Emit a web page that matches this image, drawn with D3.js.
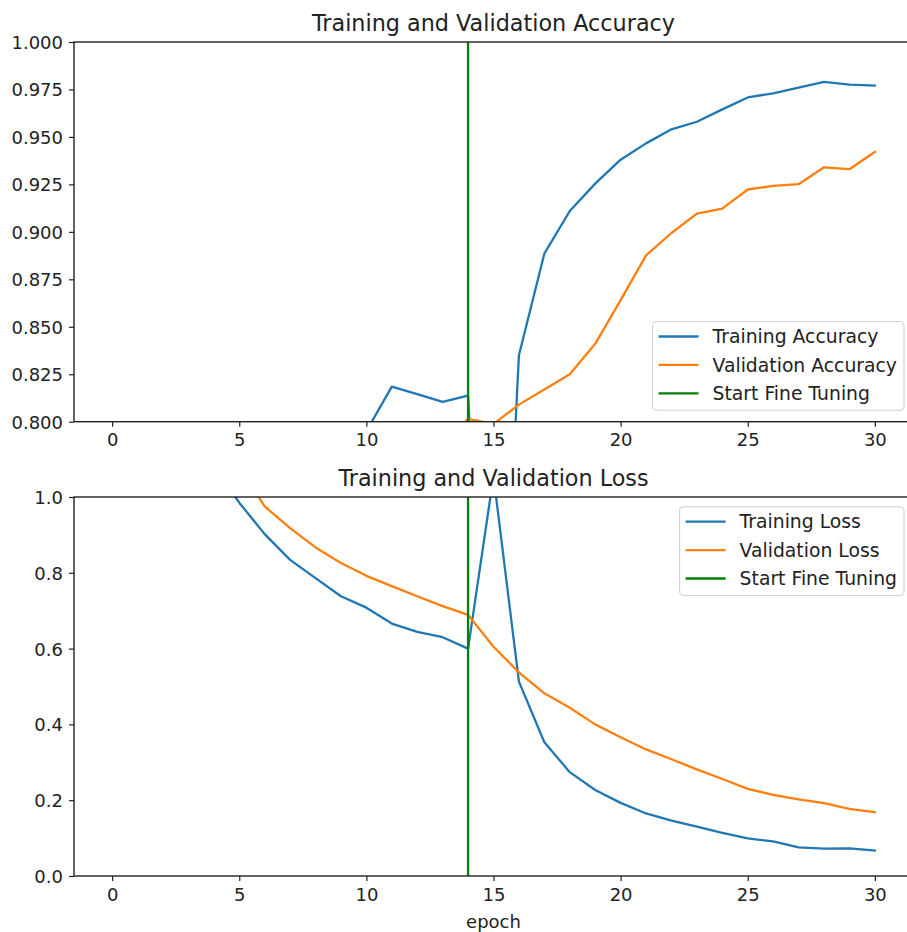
<!DOCTYPE html>
<html>
<head>
<meta charset="utf-8">
<script src="https://cdn.jsdelivr.net/npm/d3@7"></script>
<style>
  html, body { margin: 0; padding: 0; background: #fff; }
  svg { display: block; font-family: "DejaVu Sans", sans-serif; }
</style>
</head>
<body>
<svg id="chart" width="907" height="932"></svg>
<script>
// ---- data ----
const epochs = [0,1,2,3,4,5,6,7,8,9,10,11,12,13,14,15,16,17,18,19,20,21,22,23,24,25,26,27,28,29,30];
const trainAcc = [0.42,0.55,0.62,0.66,0.69,0.71,0.73,0.75,0.765,0.78,0.795,0.8185,0.8145,0.8104,0.8137,0.566,0.835,0.8885,0.911,0.9254,0.938,0.9466,0.954,0.958,0.9645,0.9708,0.973,0.976,0.979,0.9775,0.977];
const valAcc = [0.55,0.62,0.66,0.69,0.71,0.725,0.74,0.75,0.76,0.765,0.77,0.775,0.78,0.787,0.8015,0.7988,0.809,0.817,0.825,0.841,0.864,0.8876,0.8994,0.9096,0.9122,0.9223,0.9242,0.9251,0.934,0.933,0.9421];
const trainLoss = [2.1,1.6,1.35,1.2,1.08,0.985,0.902,0.834,0.786,0.738,0.708,0.666,0.644,0.630,0.600,1.055,0.513,0.353,0.274,0.227,0.193,0.165,0.146,0.130,0.114,0.099,0.0915,0.0757,0.072,0.073,0.067];
const valLoss = [1.65,1.48,1.35,1.25,1.16,1.079,0.975,0.918,0.867,0.826,0.792,0.765,0.738,0.712,0.689,0.605,0.537,0.482,0.444,0.400,0.366,0.334,0.308,0.2815,0.256,0.230,0.214,0.202,0.192,0.177,0.168];
const fineTuneEpoch = 14;
const xTicks = [0,5,10,15,20,25,30];
const accTicks = [0.800,0.825,0.850,0.875,0.900,0.925,0.950,0.975,1.000];
const lossTicks = [0.0,0.2,0.4,0.6,0.8,1.0];
const accLegend = ["Training Accuracy","Validation Accuracy","Start Fine Tuning"];
const lossLegend = ["Training Loss","Validation Loss","Start Fine Tuning"];
const titles = ["Training and Validation Accuracy","Training and Validation Loss"];
const xLabel = "epoch";

// ---- styles ----
const C_BLUE = "#1f77b4", C_ORANGE = "#ff7f0e", C_GREEN = "#008000";
const LW = 2.3;
const svg = d3.select("#chart");
const LEFT = 74, RIGHT = 913;
const x = d3.scaleLinear().domain([-1.5, 31.5]).range([LEFT, RIGHT]);

function panel(id, top, bottom, yDomain, yTicks, fmt, s1, s2, title, legendLabels, legendPos) {
  const y = d3.scaleLinear().domain(yDomain).range([bottom, top]);
  const g = svg.append("g");
  const clipId = "clip" + id;
  svg.append("clipPath").attr("id", clipId).append("rect")
    .attr("x", LEFT).attr("y", top).attr("width", RIGHT - LEFT).attr("height", bottom - top);

  const line = d3.line().x((d, i) => x(epochs[i])).y(d => y(d));
  const lg = g.append("g").attr("clip-path", `url(#${clipId})`);
  lg.append("path").datum(s1).attr("d", line).attr("fill", "none")
    .attr("stroke", C_BLUE).attr("stroke-width", LW).attr("stroke-linejoin", "round").attr("stroke-linecap", "square");
  lg.append("path").datum(s2).attr("d", line).attr("fill", "none")
    .attr("stroke", C_ORANGE).attr("stroke-width", LW).attr("stroke-linejoin", "round").attr("stroke-linecap", "square");
  lg.append("line").attr("x1", x(fineTuneEpoch)).attr("x2", x(fineTuneEpoch))
    .attr("y1", y(yDomain[0])).attr("y2", y(yDomain[1]))
    .attr("stroke", C_GREEN).attr("stroke-width", LW);

  // axes
  const xAxis = d3.axisBottom(x).tickValues(xTicks).tickSize(5).tickPadding(6).tickFormat(d3.format("d"));
  const yAxis = d3.axisLeft(y).tickValues(yTicks).tickSize(5).tickPadding(6).tickFormat(d3.format(fmt));
  const xa = g.append("g").attr("transform", `translate(0,${bottom})`).call(xAxis);
  const ya = g.append("g").attr("transform", `translate(${LEFT},0)`).call(yAxis);
  [xa, ya].forEach(a => {
    a.select(".domain").remove();
    a.selectAll(".tick line").attr("stroke", "#222").attr("stroke-width", 1.2);
    a.selectAll(".tick text").attr("fill", "#222").attr("font-size", 18)
      .attr("font-family", "DejaVu Sans, sans-serif");
  });
  ya.selectAll(".tick text").attr("dy", "0.36em");
  xa.selectAll(".tick text").attr("dy", "0.76em");

  // spines
  g.append("rect").attr("x", LEFT).attr("y", top).attr("width", RIGHT - LEFT).attr("height", bottom - top)
    .attr("fill", "none").attr("stroke", "#222").attr("stroke-width", 1.4);

  // title
  g.append("text").attr("x", (LEFT + RIGHT) / 2).attr("y", top - 11)
    .attr("text-anchor", "middle").attr("font-size", 22.3).attr("fill", "#222").text(title);

  // legend
  const colors = [C_BLUE, C_ORANGE, C_GREEN];
  const leg = g.append("g");
  const rowGap = 28.4;
  const box = leg.append("rect").attr("rx", 4).attr("ry", 4)
    .attr("fill", "#fff").attr("fill-opacity", 0.8).attr("stroke", "#d0d0d0").attr("stroke-width", 1.1);
  let maxW = 0;
  const texts = [];
  legendLabels.forEach((lab, i) => {
    const t = leg.append("text").attr("font-size", 18.8).attr("fill", "#222").attr("dy", "0.36em").text(lab);
    texts.push(t);
    maxW = Math.max(maxW, t.node().getComputedTextLength());
  });
  const boxW = 60 + maxW + 7;
  const boxRight = 904;
  const boxLeft = boxRight - boxW;
  const firstRow = legendPos.firstRow;
  box.attr("x", boxLeft).attr("y", firstRow - 15).attr("width", boxW).attr("height", rowGap * 2 + 32);
  legendLabels.forEach((lab, i) => {
    const ry = firstRow + i * rowGap;
    leg.append("line").attr("x1", boxLeft + 6).attr("x2", boxLeft + 46).attr("y1", ry).attr("y2", ry)
      .attr("stroke", colors[i]).attr("stroke-width", LW);
    texts[i].attr("x", boxLeft + 60).attr("y", ry);
  });
  return { y };
}

panel("a", 42, 421.7, [0.8, 1.0], accTicks, ".3f", trainAcc, valAcc, titles[0], accLegend, { firstRow: 336.5 });
panel("b", 497, 876, [0.0, 1.0], lossTicks, ".1f", trainLoss, valLoss, titles[1], lossLegend, { firstRow: 521.7 });

svg.append("text").attr("x", (LEFT + RIGHT) / 2).attr("y", 928).attr("text-anchor", "middle")
  .attr("font-size", 18).attr("fill", "#222").text(xLabel);
</script>
</body>
</html>
